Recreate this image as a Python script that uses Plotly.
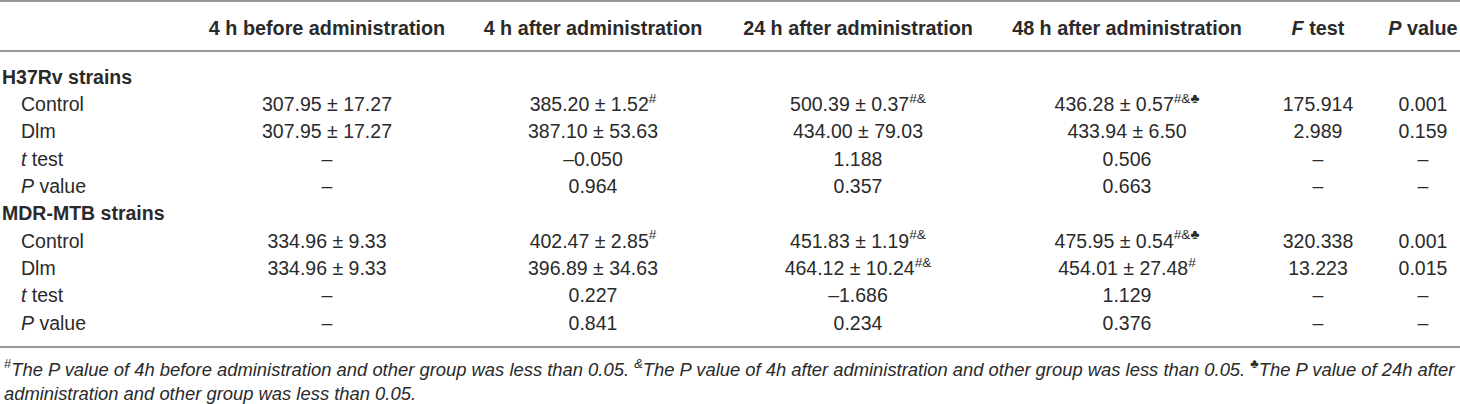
import plotly.graph_objects as go

# ---- dados da tabela ----
headers = ["4 h before administration", "4 h after administration", "24 h after administration",
           "48 h after administration", "<i>F</i> test", "<i>P</i> value"]

row_labels = ["H37Rv strains", "Control", "Dlm", "<i>t</i> test", "<i>P</i> value",
              "MDR-MTB strains", "Control", "Dlm", "<i>t</i> test", "<i>P</i> value"]
group_rows = [0, 5]

before_4h = ["", "307.95 ± 17.27", "307.95 ± 17.27", "–", "–",
             "", "334.96 ± 9.33", "334.96 ± 9.33", "–", "–"]
after_4h = ["", "385.20 ± 1.52<sup>#</sup>", "387.10 ± 53.63", "–0.050", "0.964",
            "", "402.47 ± 2.85<sup>#</sup>", "396.89 ± 34.63", "0.227", "0.841"]
after_24h = ["", "500.39 ± 0.37<sup>#&amp;</sup>", "434.00 ± 79.03", "1.188", "0.357",
             "", "451.83 ± 1.19<sup>#&amp;</sup>", "464.12 ± 10.24<sup>#&amp;</sup>", "–1.686", "0.234"]
after_48h = ["", "436.28 ± 0.57<sup>#&amp;♣</sup>", "433.94 ± 6.50", "0.506", "0.663",
             "", "475.95 ± 0.54<sup>#&amp;♣</sup>", "454.01 ± 27.48<sup>#</sup>", "1.129", "0.376"]
f_test = ["", "175.914", "2.989", "–", "–", "", "320.338", "13.223", "–", "–"]
p_value = ["", "0.001", "0.159", "–", "–", "", "0.001", "0.015", "–", "–"]

footnote_lines = [
    "<sup>#</sup><i>The P value of 4h before administration and other group was less than 0.05. "
    "<sup>&amp;</sup>The P value of 4h after administration and other group was less than 0.05. "
    "<sup>♣</sup>The P value of 24h after</i>",
    "<i>administration and other group was less than 0.05.</i>",
]

# ---- layout (pixels) ----
col_x = [327, 593, 858, 1127, 1318, 1423]
header_y = 30
row_y = [79 + 27.3 * i for i in range(len(row_labels))]
foot_y = [368, 393]
FONT = "Liberation Sans, Arial, sans-serif"
COR = "#2a2a2a"
SIZE = 19.5

fig = go.Figure()

# cabecalho
fig.add_trace(go.Scatter(x=col_x, y=[header_y] * len(headers), mode="text",
                         text=["<b>" + h + "</b>" for h in headers],
                         textposition="middle center",
                         textfont=dict(family=FONT, size=19.8, color=COR)))

# rotulos das linhas
grp_x, grp_y, grp_t, sub_x, sub_y, sub_t = [], [], [], [], [], []
for i, lab in enumerate(row_labels):
    if i in group_rows:
        grp_x.append(2); grp_y.append(row_y[i]); grp_t.append("<b>" + lab + "</b>")
    else:
        sub_x.append(21); sub_y.append(row_y[i]); sub_t.append(lab)
fig.add_trace(go.Scatter(x=grp_x, y=grp_y, mode="text", text=grp_t, textposition="middle right",
                         textfont=dict(family=FONT, size=SIZE, color=COR)))
fig.add_trace(go.Scatter(x=sub_x, y=sub_y, mode="text", text=sub_t, textposition="middle right",
                         textfont=dict(family=FONT, size=SIZE, color=COR)))

# colunas de valores (sem as celulas vazias)
for j, col in enumerate([before_4h, after_4h, after_24h, after_48h, f_test, p_value]):
    ys = [row_y[i] for i, v in enumerate(col) if v != ""]
    ts = [v for v in col if v != ""]
    fig.add_trace(go.Scatter(x=[col_x[j]] * len(ts), y=ys, mode="text", text=ts,
                             textposition="middle center",
                             textfont=dict(family=FONT, size=SIZE, color=COR)))

# linhas horizontais
for yy in [1, 51, 347]:
    fig.add_shape(type="line", xref="paper", x0=0, x1=1, yref="y", y0=yy, y1=yy,
                  line=dict(color="#9a9a9a", width=2))

# nota de rodape
for k, linha in enumerate(footnote_lines):
    fig.add_annotation(x=2, y=foot_y[k], xref="x", yref="y", text=linha, showarrow=False,
                       xanchor="left", yanchor="middle", align="left",
                       font=dict(family=FONT, size=18.4, color=COR))

fig.update_layout(width=1460, height=404, margin=dict(l=0, r=0, t=0, b=0),
                  paper_bgcolor="white", plot_bgcolor="white", showlegend=False,
                  hovermode=False)
fig.update_xaxes(range=[0, 1460], visible=False, fixedrange=True)
fig.update_yaxes(range=[404, 0], visible=False, fixedrange=True)

fig.write_html("out.html", config={"displayModeBar": False},
               post_script="document.body.style.margin='0';document.body.style.overflow='hidden';")
